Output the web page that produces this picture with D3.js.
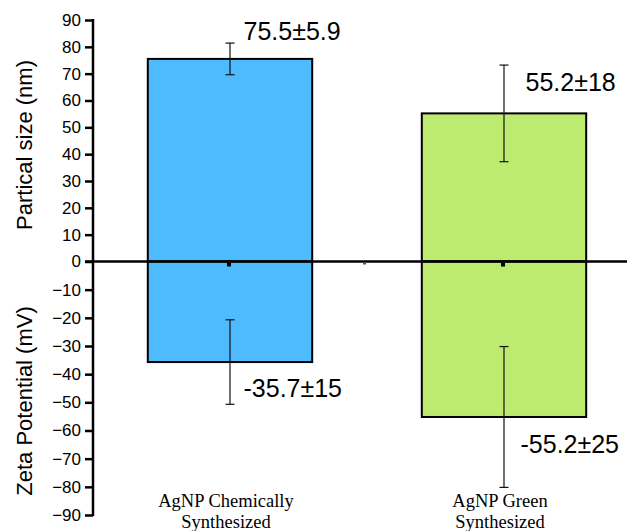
<!DOCTYPE html>
<html>
<head>
<meta charset="utf-8">
<script src="https://cdn.jsdelivr.net/npm/d3@7"></script>
<style>
  body { margin: 0; background: #fff; }
  svg { display: block; }
</style>
</head>
<body>
<svg id="chart" width="627" height="531"></svg>
<script>
const width = 627;
const height = 531;

// data
const categories = ["AgNP Chemically Synthesized", "AgNP Green Synthesized"];
const categoryLines = [["AgNP Chemically", "Synthesized"], ["AgNP Green", "Synthesized"]];
const sizeValues = [75.5, 55.2];
const sizeErrors = [5.9, 18];
const zetaValues = [-35.7, -55.2];
const zetaErrors = [15, 25];
const sizeTicks = [0, 10, 20, 30, 40, 50, 60, 70, 80, 90];
const zetaTicks = [-10, -20, -30, -40, -50, -60, -70, -80, -90];
const colors = ["#4fbbff", "#bdeb70"];

const svg = d3.select("#chart");

const axisX = 93;
const zeroY = 261.5;

const x = d3.scaleBand()
  .domain(categories)
  .range([axisX, 641])
  .paddingInner(0.4)
  .paddingOuter(0.2);

const yTop = d3.scaleLinear().domain([0, 90]).range([zeroY, 20]);
const yBot = d3.scaleLinear().domain([0, -90]).range([zeroY, 515]);

const cx = d => x(d) + x.bandwidth() / 2;

// bars (upper = size, lower = zeta)
const bars = svg.append("g");
bars.selectAll(".top")
  .data(categories)
  .enter()
  .append("rect")
  .attr("x", d => x(d))
  .attr("y", (d, i) => yTop(sizeValues[i]))
  .attr("width", x.bandwidth())
  .attr("height", (d, i) => yTop(0) - yTop(sizeValues[i]))
  .attr("fill", (d, i) => colors[i])
  .attr("stroke", "#000")
  .attr("stroke-width", 2);

bars.selectAll(".bot")
  .data(categories)
  .enter()
  .append("rect")
  .attr("x", d => x(d))
  .attr("y", yBot(0))
  .attr("width", x.bandwidth())
  .attr("height", (d, i) => yBot(zetaValues[i]) - yBot(0))
  .attr("fill", (d, i) => colors[i])
  .attr("stroke", "#000")
  .attr("stroke-width", 2);

// error bars
function errorBar(g, xc, y1, y2) {
  const cap = 4.5;
  g.append("line").attr("x1", xc).attr("x2", xc).attr("y1", y1).attr("y2", y2);
  g.append("line").attr("x1", xc - cap).attr("x2", xc + cap).attr("y1", y1).attr("y2", y1);
  g.append("line").attr("x1", xc - cap).attr("x2", xc + cap).attr("y1", y2).attr("y2", y2);
}
const errs = svg.append("g").attr("stroke", "#111").attr("stroke-width", 1.2);
categories.forEach((c, i) => {
  errorBar(errs, cx(c), yTop(sizeValues[i] + sizeErrors[i]), yTop(sizeValues[i] - sizeErrors[i]));
  errorBar(errs, cx(c), yBot(zetaValues[i] + zetaErrors[i]), yBot(zetaValues[i] - zetaErrors[i]));
});

// zero line
svg.append("line")
  .attr("x1", axisX - 8)
  .attr("x2", width)
  .attr("y1", zeroY)
  .attr("y2", zeroY)
  .attr("stroke", "#000")
  .attr("stroke-width", 2.5);

// small marks under the zero line
categories.forEach(c => {
  svg.append("rect")
    .attr("x", cx(c) - 3)
    .attr("y", zeroY + 1)
    .attr("width", 4)
    .attr("height", 4)
    .attr("fill", "#000");
});
svg.append("rect")
  .attr("x", (cx(categories[0]) + cx(categories[1])) / 2 - 4)
  .attr("y", zeroY + 1)
  .attr("width", 3)
  .attr("height", 2)
  .attr("fill", "#555");

// axes
const axisTop = svg.append("g")
  .attr("transform", `translate(${axisX},0)`)
  .call(d3.axisLeft(yTop).tickValues(sizeTicks).tickSize(8).tickPadding(4));
const axisBot = svg.append("g")
  .attr("transform", `translate(${axisX},0)`)
  .call(d3.axisLeft(yBot).tickValues(zetaTicks).tickSize(8).tickPadding(4));

[axisTop, axisBot].forEach(a => {
  a.select(".domain").remove();
  a.selectAll(".tick line").attr("stroke", "#000").attr("stroke-width", 2.5);
  a.selectAll(".tick text")
    .attr("fill", "#000")
    .style("font-family", "Liberation Sans, Arial, sans-serif")
    .style("font-size", "17px");
});

svg.append("line")
  .attr("x1", axisX)
  .attr("x2", axisX)
  .attr("y1", yTop(90) - 1)
  .attr("y2", yBot(-90) + 1)
  .attr("stroke", "#000")
  .attr("stroke-width", 2.5);

// axis titles
svg.append("text")
  .attr("transform", "translate(32,145) rotate(-90)")
  .attr("text-anchor", "middle")
  .style("font-family", "Liberation Sans, Arial, sans-serif")
  .style("font-size", "22px")
  .text("Partical size (nm)");

svg.append("text")
  .attr("transform", "translate(32,401) rotate(-90)")
  .attr("text-anchor", "middle")
  .style("font-family", "Liberation Sans, Arial, sans-serif")
  .style("font-size", "22px")
  .text("Zeta Potential (mV)");

// value labels
const topLabelPos = [[13.5, 40], [21.5, 90.7]];
const botLabelPos = [[13.5, 397.3], [16.5, 453.3]];
const fmt = (v, e) => `${v}±${e}`;
categories.forEach((c, i) => {
  svg.append("text")
    .attr("x", cx(c) + topLabelPos[i][0])
    .attr("y", topLabelPos[i][1])
    .style("font-family", "Liberation Sans, Arial, sans-serif")
    .style("font-size", "25px")
    .text(fmt(sizeValues[i], sizeErrors[i]));
  svg.append("text")
    .attr("x", cx(c) + botLabelPos[i][0])
    .attr("y", botLabelPos[i][1])
    .style("font-family", "Liberation Sans, Arial, sans-serif")
    .style("font-size", "25px")
    .text(fmt(zetaValues[i], zetaErrors[i]));
});

// category labels
categories.forEach((c, i) => {
  const t = svg.append("text")
    .attr("text-anchor", "middle")
    .style("font-family", "Liberation Serif, Times New Roman, serif")
    .style("font-size", "18.5px");
  categoryLines[i].forEach((line, j) => {
    t.append("tspan")
      .attr("x", cx(c) - 4)
      .attr("y", 506.5 + j * 21.5)
      .text(line);
  });
});
</script>
</body>
</html>
